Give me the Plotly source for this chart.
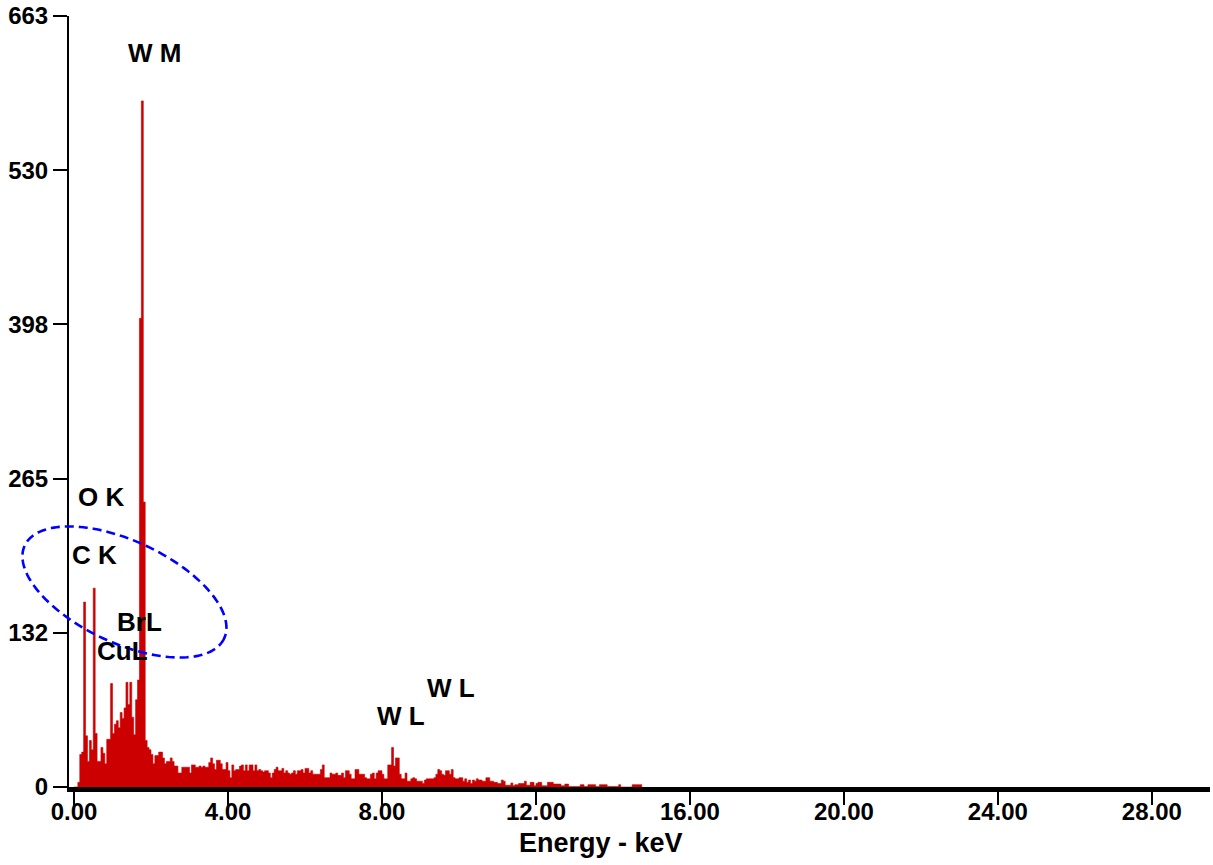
import numpy as np
import plotly.graph_objects as go

# ---------------- data (EDS spectrum, 0.05 keV channels) ----------------
BIN_KEV = 0.05
counts = [
    0, 0, 4, 28, 30, 159, 44, 22, 40, 32,
    171, 46, 22, 22, 34, 29, 20, 41, 41, 89,
    46, 54, 57, 51, 64, 59, 68, 90, 71, 90,
    60, 45, 75, 92, 403, 590, 245, 40, 34, 32,
    28, 20, 27, 27, 30, 30, 25, 20, 22, 22,
    25, 22, 18, 18, 12, 12, 17, 17, 17, 17,
    12, 19, 19, 17, 17, 18, 17, 18, 17, 17,
    21, 25, 20, 15, 23, 23, 20, 15, 15, 21,
    14, 8, 19, 14, 15, 15, 18, 19, 14, 19,
    14, 19, 19, 14, 19, 14, 15, 14, 13, 14,
    14, 12, 8, 12, 15, 17, 14, 14, 16, 12,
    14, 12, 11, 12, 14, 11, 14, 14, 15, 12,
    16, 16, 12, 14, 11, 11, 11, 11, 15, 19,
    8, 8, 8, 12, 11, 11, 12, 10, 10, 12,
    8, 14, 14, 11, 7, 7, 15, 15, 11, 11,
    11, 8, 7, 7, 11, 12, 7, 12, 14, 14,
    11, 7, 7, 19, 19, 34, 18, 25, 25, 11,
    7, 7, 12, 5, 5, 7, 8, 7, 5, 5,
    5, 3, 6, 7, 7, 7, 7, 8, 11, 15,
    14, 11, 10, 14, 14, 11, 15, 8, 7, 7,
    8, 8, 5, 7, 4, 6, 3, 6, 5, 7,
    6, 6, 5, 5, 8, 8, 5, 5, 4, 4,
    3, 3, 6, 5, 1.5, 1.5, 1.5, 3.5, 1, 2,
    2, 3, 3, 3, 5, 1.5, 1.5, 4, 4, 1,
    3, 4, 4, 1, 1, 1, 4, 4, 4, 2.5,
    2.5, 2.5, 2.5, 1, 1, 2.5, 2.5, 0.5, 0.5, 0.5,
    0.5, 0.5, 0.5, 2, 2, 0.5, 0.5, 2, 2, 2,
    2, 0.5, 0.5, 2, 2, 2, 2, 0.5, 0.5, 0.5,
    0.5, 0.5, 0.5, 2, 0, 0, 0, 0, 0, 0,
    2, 2, 2, 2, 2,
]

x_tick_vals = [0, 4, 8, 12, 16, 20, 24, 28]
x_tick_text = ["0.00", "4.00", "8.00", "12.00", "16.00", "20.00", "24.00", "28.00"]
y_tick_vals = [0, 132.6, 265.2, 397.8, 530.4, 663]
y_tick_text = ["0", "132", "265", "398", "530", "663"]

peak_labels = ["W M", "O K", "C K", "BrL", "CuL", "W L", "W L"]
peak_label_x = [2.10, 0.70, 0.52, 1.69, 1.25, 8.49, 9.79]
peak_label_y = [631, 249, 199.5, 142, 117, 61, 85]

X_RANGE = [-0.13, 29.51]
Y_RANGE = [0, 663]

# ---------------- layout geometry ----------------
W, H = 1213, 865
M_L, M_R, M_T, M_B = 69, 3, 16, 78
plot_w = W - M_L - M_R
plot_h = H - M_T - M_B
px_per_x = plot_w / (X_RANGE[1] - X_RANGE[0])
px_per_y = plot_h / (Y_RANGE[1] - Y_RANGE[0])

# step-filled spectrum
edges = [i * BIN_KEV for i in range(len(counts) + 1)]
xs = edges
ys = counts + [0]

RED = "rgb(204,0,0)"
FONT = "Liberation Sans, Arial, sans-serif"

fig = go.Figure()
fig.add_trace(go.Scatter(
    x=xs, y=ys, mode="lines", line=dict(shape="hv", width=0.6, color=RED),
    fill="tozeroy", fillcolor=RED, hoverinfo="skip", showlegend=False,
))

# dashed ellipse (center in data units, axes in screen px, tilted);
# drawn in paper coordinates so it can extend past the y axis like the original
ell_cx, ell_cy = 1.31, 167.7
ell_a, ell_b, ell_ang = 110, 51, np.deg2rad(25)
t = np.linspace(0, 2 * np.pi, 181)
dx = ell_a * np.cos(t) * np.cos(ell_ang) - ell_b * np.sin(t) * np.sin(ell_ang)
dy = ell_a * np.cos(t) * np.sin(ell_ang) + ell_b * np.sin(t) * np.cos(ell_ang)
cx_px = (ell_cx - X_RANGE[0]) * px_per_x
cy_px = (ell_cy - Y_RANGE[0]) * px_per_y
ex = (cx_px + dx) / plot_w
ey = (cy_px - dy) / plot_h
path = "M " + " L ".join(f"{a:.5f},{b:.5f}" for a, b in zip(ex, ey)) + " Z"
fig.add_shape(type="path", path=path, xref="paper", yref="paper",
              line=dict(color="rgb(0,0,255)", width=2.6, dash="9px,5px"))

for txt, lx, ly in zip(peak_labels, peak_label_x, peak_label_y):
    fig.add_annotation(x=lx, y=ly, text=txt, showarrow=False,
                       xanchor="center", yanchor="middle",
                       font=dict(family=FONT, size=26, color="black", weight="bold"))

fig.add_annotation(x=(601 - M_L) / plot_w, y=-(843 - (H - M_B)) / plot_h,
                   xref="paper", yref="paper", text="Energy - keV", showarrow=False,
                   xanchor="center", yanchor="middle",
                   font=dict(family=FONT, size=27, color="black", weight="bold"))

fig.update_layout(
    width=W, height=H,
    margin=dict(l=M_L, r=M_R, t=M_T, b=M_B, pad=0),
    paper_bgcolor="white", plot_bgcolor="white",
    showlegend=False,
    xaxis=dict(range=X_RANGE, tickvals=x_tick_vals, ticktext=x_tick_text,
               showgrid=False, zeroline=False, showline=True, linecolor="black",
               linewidth=5, ticks="outside", ticklen=13, tickwidth=2, tickcolor="black",
               ticklabelstandoff=-14,
               tickfont=dict(family=FONT, size=24, color="black", weight="bold")),
    yaxis=dict(range=Y_RANGE, tickvals=y_tick_vals, ticktext=y_tick_text,
               showgrid=False, zeroline=False, showline=True, linecolor="black",
               linewidth=2, ticks="outside", ticklen=14, tickwidth=2, tickcolor="black",
               tickfont=dict(family=FONT, size=24, color="black", weight="bold")),
)

fig.write_html("out.html", config={"displayModeBar": False},
               post_script="document.body.style.margin='0';document.body.style.overflow='hidden';")
